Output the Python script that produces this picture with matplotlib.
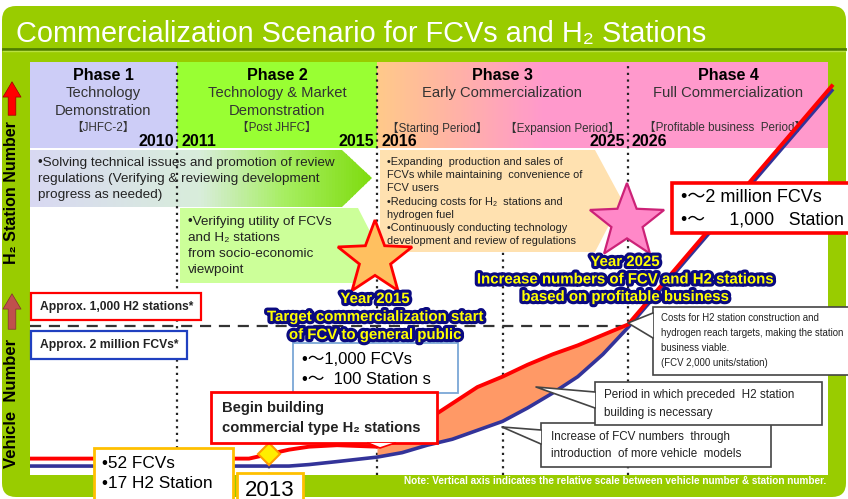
import numpy as np
import matplotlib
matplotlib.use('Agg')
import matplotlib.pyplot as plt
from matplotlib.patches import Rectangle, Polygon, FancyBboxPatch
import matplotlib.patheffects as pe
from matplotlib.colors import LinearSegmentedColormap

plt.rcParams['font.family'] = ['Liberation Sans', 'Noto Sans CJK JP', 'DejaVu Sans']

# ---- data: relative scale, 1.0 = ~1,000 stations / ~2 million FCVs
years = [2006, 2012.8, 2013.3, 2013.8, 2014.3, 2015, 2016, 2017, 2018, 2019,
         2020, 2021, 2022, 2023, 2024, 2025, 2026, 2030.1]
stations = [0.11, 0.11, 0.14, 0.17, 0.19, 0.20, 0.19, 0.28, 0.37, 0.48,
            0.59, 0.66, 0.74, 0.81, 0.87, 0.94, 1.01, 2.62]
vehicles = [0.06, 0.06, 0.06, 0.06, 0.07, 0.09, 0.12, 0.15, 0.20, 0.24,
            0.30, 0.36, 0.45, 0.55, 0.66, 0.81, 0.99, 2.59]
gap_years = (2016, 2026)
first_station_year = 2013.3
target_level = 1.0

phase_names = ['Phase 1', 'Phase 2', 'Phase 3', 'Phase 4']
phase_desc = [['Technology', 'Demonstration'], ['Technology & Market', 'Demonstration'],
              ['Early Commercialization'], ['Full Commercialization']]
edge_years = [2006, 2011, 2016, 2026, 2030]
start_labels = ['', '2011', '2016', '2026']
end_labels = ['2010', '2015', '2025', '']

# ---- layout (pixels)
W, H = 848, 499
edge_px = [30, 177, 377, 628, 828]
top_px, bot_px, unit_px = 62, 475, 149

kx = [1980] + edge_years + [2060]
kp = [30 - 26 * 29.4] + edge_px + [828 + 30 * 50]


def fwd(v):
    return np.interp(v, kx, kp)


def inv(p):
    return np.interp(p, kp, kx)


fig = plt.figure(figsize=(W / 100, H / 100), dpi=100)
fig.patch.set_facecolor('white')

bg = fig.add_axes([0, 0, 1, 1], zorder=0)
fg = fig.add_axes([0, 0, 1, 1], zorder=2)
for a in (bg, fg):
    a.set_xlim(0, W)
    a.set_ylim(H, 0)
    a.axis('off')
fg.patch.set_alpha(0)


def hgrad(x0, x1, y0, y1, cmap, clip=None, n=120, z=1.5):
    xs = np.linspace(x0, x1, n + 1)
    for i in range(n):
        r = Rectangle((xs[i], y0), xs[i + 1] - xs[i] + 0.6, y1 - y0,
                      fc=cmap(i / (n - 1)), ec='none', zorder=z)
        bg.add_patch(r)
        if clip is not None:
            r.set_clip_path(clip)


GREEN = '#99CC00'
bg.add_patch(FancyBboxPatch((2, 6), 844, 491, boxstyle='round,pad=0,rounding_size=14',
                            fc=GREEN, ec='none', zorder=0.5))
bg.plot([3, 845], [48.5, 48.5], color='#4E7D00', lw=2, zorder=1)
bg.plot([3, 845], [50.5, 50.5], color='#B8E040', lw=1, zorder=1)
bg.text(16, 34, 'Commercialization Scenario for FCVs and H\u2082 Stations', color='white',
        fontsize=20.8, va='center', ha='left', zorder=3)

# header bands
bg.add_patch(Rectangle((30, 62), 147, 86, fc='#CDCDF7', ec='none', zorder=1))
bg.add_patch(Rectangle((177, 62), 200, 86, fc='#99FF33', ec='none', zorder=1))
bg.add_patch(Rectangle((628, 62), 200, 86, fc='#FF99CC', ec='none', zorder=1))
grad = LinearSegmentedColormap.from_list('p3', ['#FFC98A', '#FFB0A8', '#FF99CC', '#FF99CC'])
hgrad(377, 628, 62, 148, grad)
bg.add_patch(Rectangle((30, 148), 798, 327, fc='white', ec='none', zorder=1))

centers = [(edge_px[i] + edge_px[i + 1]) / 2 for i in range(4)]
for i in range(4):
    bg.text(centers[i], 75, phase_names[i], fontsize=11.6, fontweight='bold', ha='center',
            va='center', zorder=3)
    for j, d in enumerate(phase_desc[i]):
        bg.text(centers[i], 93 + 17.5 * j, d, fontsize=10.6, color='#333333', ha='center',
                va='center', zorder=3)
    if end_labels[i]:
        bg.text(edge_px[i + 1] - 3, 141, end_labels[i], fontsize=11.5, fontweight='bold',
                ha='right', va='center', zorder=3)
    if start_labels[i]:
        bg.text(edge_px[i] + 4, 141, start_labels[i], fontsize=11.5, fontweight='bold',
                ha='left', va='center', zorder=3)
sub = dict(fontsize=8.4, color='#333333', ha='center', va='center', zorder=3)
bg.text(103, 128, '【JHFC-2】', **sub)
bg.text(277, 128, '【Post JHFC】', **sub)
bg.text(437, 128, '【Starting Period】', **sub)
bg.text(562, 128, '【Expansion Period】', **sub)
bg.text(725, 128, '【Profitable business  Period】', **sub)

# activity arrows
arr1 = Polygon([(30, 150), (342, 150), (372, 178), (342, 207), (30, 207)], closed=True,
               fc='none', ec='none', zorder=1.5)
bg.add_patch(arr1)
g1 = LinearSegmentedColormap.from_list('a1', [(0, '#D8D8F2'), (0.5, '#D8EDDA'),
                                              (0.75, '#A6EE60'), (1, '#7FDC10')])
hgrad(30, 372, 150, 207, g1, clip=arr1)
bg.add_patch(Polygon([(180, 208), (358, 208), (378, 247), (353, 283), (180, 283)], closed=True,
                     fc='#CCFF99', ec='none', zorder=1.5))
bg.add_patch(Polygon([(380, 150), (595, 150), (622, 200), (595, 252), (380, 252)], closed=True,
                     fc='#FFE1B0', ec='none', zorder=1.5))

t1 = ['\u2022Solving technical issues and promotion of review',
      'regulations (Verifying & reviewing development',
      'progress as needed)']
for k, s in enumerate(t1):
    bg.text(38, 163 + 16 * k, s, fontsize=9.7, color='#222222', va='center', zorder=3)
t2 = ['\u2022Verifying utility of FCVs', 'and H\u2082 stations', 'from socio-economic', 'viewpoint']
for k, s in enumerate(t2):
    bg.text(188, 222 + 16 * k, s, fontsize=9.7, color='#222222', va='center', zorder=3)
t3 = ['\u2022Expanding  production and sales of', 'FCVs while maintaining  convenience of',
      'FCV users', '\u2022Reducing costs for H\u2082  stations and', 'hydrogen fuel',
      '\u2022Continuously conducting technology', 'development and review of regulations']
for k, s in enumerate(t3):
    bg.text(387, 162 + 13.2 * k, s, fontsize=7.9, color='#222222', va='center', zorder=3)

# left axis labels
fg.annotate('', xy=(12, 79), xytext=(12, 118),
            arrowprops=dict(arrowstyle='simple,head_width=1.3,head_length=1.1,tail_width=0.55',
                            fc='#FF0000', ec='#990000', lw=0.5))
fg.annotate('', xy=(12, 291), xytext=(12, 332),
            arrowprops=dict(arrowstyle='simple,head_width=1.3,head_length=1.1,tail_width=0.55',
                            fc='#C0504D', ec='#803030', lw=0.5))
fg.text(12, 193, 'H\u2082 Station Number', rotation=90, fontsize=11.5, fontweight='bold',
        ha='center', va='center')
fg.text(12, 403, 'Vehicle  Number', rotation=90, fontsize=12, fontweight='bold',
        ha='center', va='center')

# ---- data axes
ax = fig.add_axes([30 / W, (H - bot_px) / H, 798 / W, (bot_px - top_px) / H], zorder=1)
ax.set_xscale('function', functions=(fwd, inv))
ax.set_xlim(edge_years[0], edge_years[-1])
ax.set_ylim(0, (bot_px - top_px) / unit_px)
ax.patch.set_alpha(0)
ax.axis('off')

dot = dict(color='#222222', lw=1.6, ls=(0, (1, 2)))
for yr in edge_years[1:4]:
    ax.axvline(yr, 0, 1, **dot)
ax.axvline(2021, 0, (bot_px - 252) / (bot_px - top_px), **dot)
ax.axhline(target_level, color='#333333', lw=1.6, ls=(0, (5, 3.5)))

yrs = np.array(years)
st = np.array(stations)
vh = np.array(vehicles)
mask = (yrs >= gap_years[0]) & (yrs <= gap_years[1])
ax.fill_between(yrs, vh, st, where=mask, color='#FF9966', lw=0, zorder=2)
ax.plot(yrs, st, color='#FF0000', lw=2.8, clip_on=False, zorder=4, solid_capstyle='butt')
ax.plot(yrs, vh, color='#333399', lw=2.6, clip_on=False, zorder=3, solid_capstyle='butt')
d_lvl = np.interp(first_station_year, yrs, st)
ax.plot([first_station_year] * 2, [0, d_lvl], **dot)
ax.plot(first_station_year, d_lvl, marker='D', ms=11, mfc='#FFEE00', mec='#FF9900', mew=1.5,
        zorder=5, clip_on=False)


# ---- foreground boxes and stars
def rbox(x0, y0, x1, y1, ec, lw=1.5, fc='white'):
    fg.add_patch(Rectangle((x0, y0), x1 - x0, y1 - y0, fc=fc, ec=ec, lw=lw, zorder=3))


def wedge(tip, a, b, ec='#444444'):
    fg.add_patch(Polygon([tip, a, b], closed=True, fc='white', ec='none', zorder=4))
    fg.plot([a[0], tip[0], b[0]], [a[1], tip[1], b[1]], color=ec, lw=1.2, zorder=4)


def star(cx, cy, R, ratio=0.42):
    pts = []
    for i in range(10):
        ang = np.pi / 2 + i * np.pi / 5
        rr = R if i % 2 == 0 else R * ratio
        pts.append((cx + rr * np.cos(ang), cy - rr * np.sin(ang)))
    return pts


fg.add_patch(Polygon(star(375, 259, 39), closed=True, fc='#FFC060', ec='#FF0000', lw=2, zorder=3))
fg.add_patch(Polygon(star(627, 222, 39), closed=True, fc='#FF88C8', ec='#CC2277', lw=1.6, zorder=3))

glow = [pe.withStroke(linewidth=4.5, foreground='#0A0A80')]
yt = dict(fontsize=10.8, fontweight='bold', color='#FFFF00', ha='center', va='center',
          path_effects=glow, zorder=6)
for k, s in enumerate(['Year 2015', 'Target commercialization start', 'of FCV to general public']):
    fg.text(375, 299 + 18 * k, s, **yt)
for k, s in enumerate(['Year 2025', 'Increase numbers of FCV and H2 stations',
                       'based on profitable business']):
    fg.text(625, 262 + 17.5 * k, s, **yt)

rbox(31, 293, 201, 320, '#FF0000', 1.6)
fg.text(40, 307, 'Approx. 1,000 H2 stations*', fontsize=8.7, fontweight='bold', color='#222222',
        va='center', zorder=5)
rbox(31, 331, 187, 359, '#2040C0', 1.6)
fg.text(40, 345, 'Approx. 2 million FCVs*', fontsize=8.7, fontweight='bold', color='#222222',
        va='center', zorder=5)

rbox(293, 343, 458, 393, '#7BA7D7', 1.3)
fg.text(302, 360, '\u2022\uff5e1,000 FCVs', fontsize=12, va='center', zorder=5)
fg.text(302, 380, '\u2022\uff5e  100 Station s', fontsize=12, va='center', zorder=5)

rbox(211, 392, 437, 443, '#FF0000', 2)
wedge((380, 448), (368, 443), (395, 443), ec='#FF0000')
fg.text(222, 408, 'Begin building', fontsize=10.6, fontweight='bold', color='#222222',
        va='center', zorder=5)
fg.text(222, 428, 'commercial type H\u2082 stations', fontsize=10.6, fontweight='bold',
        color='#222222', va='center', zorder=5)

rbox(94, 448, 233, 505, '#FFC000', 2)
fg.text(102, 464, '\u202252 FCVs', fontsize=12.4, va='center', zorder=5)
fg.text(102, 484, '\u202217 H2 Station', fontsize=12.4, va='center', zorder=5)
rbox(237, 473, 303, 505, '#FFC000', 2)
fg.text(270, 490, '2013', fontsize=16, ha='center', va='center', zorder=5)

rbox(672, 183, 852, 233, '#FF0000', 2.6)
fg.text(681, 198, '\u2022\uff5e2 million FCVs', fontsize=13, va='center', zorder=5)
fg.text(681, 220, '\u2022\uff5e     1,000   Station', fontsize=12.8, va='center', zorder=5)

rbox(653, 307, 852, 375, '#444444', 1.2)
wedge((628, 323), (653, 313), (653, 338))
for k, s in enumerate(['Costs for H2 station construction and',
                       'hydrogen reach targets, making the station',
                       'business viable.', '(FCV 2,000 units/station)']):
    fg.text(661, 318 + 15 * k, s, fontsize=6.9, color='#222222', va='center', zorder=5)

rbox(541, 423, 771, 467, '#444444', 1.2)
wedge((502, 427), (541, 430), (541, 444))
fg.text(551, 437, 'Increase of FCV numbers  through', fontsize=8.4, color='#222222',
        va='center', zorder=5)
fg.text(551, 454, 'introduction  of more vehicle  models', fontsize=8.4, color='#222222',
        va='center', zorder=5)

rbox(595, 382, 822, 425, '#444444', 1.2)
wedge((536, 387), (595, 392), (595, 408))
fg.text(604, 395, 'Period in which preceded  H2 station', fontsize=8.4, color='#222222',
        va='center', zorder=5)
fg.text(604, 413, 'building is necessary', fontsize=8.4, color='#222222', va='center', zorder=5)

fg.text(826, 481, 'Note: Vertical axis indicates the relative scale between vehicle number & '
        'station number.', fontsize=7.2, fontweight='bold', color='white', ha='right',
        va='center', zorder=5)

for a in (bg, fg):
    a.set_xlim(0, W)
    a.set_ylim(H, 0)

fig.savefig('out.png', dpi=100)
